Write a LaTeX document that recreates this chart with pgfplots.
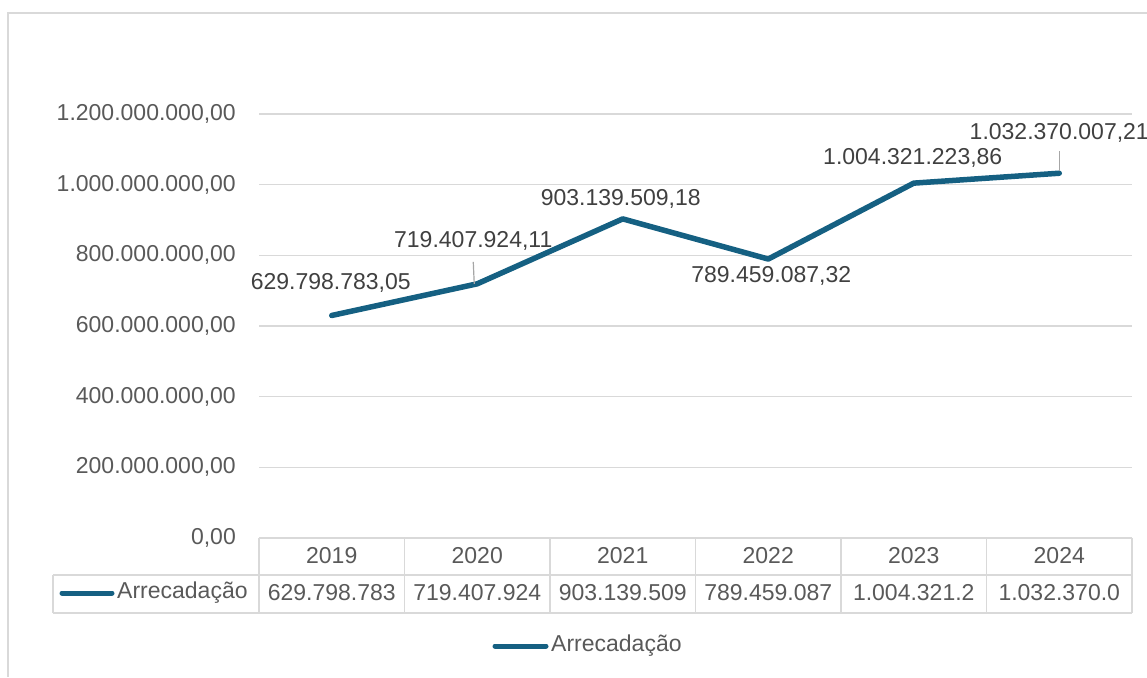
\documentclass[border=0pt]{standalone}
\usepackage{fontspec}
\setmainfont{Liberation Sans}
\usepackage{pgfplots}
\pgfplotsset{compat=1.18}
\definecolor{serie}{HTML}{156082}
\definecolor{gridc}{HTML}{D9D9D9}
\definecolor{txt}{HTML}{595959}
\definecolor{lbl}{HTML}{404040}
\definecolor{lead}{HTML}{A6A6A6}
\begin{document}
\fontsize{23}{27}\selectfont
\begin{tikzpicture}[x=1pt,y=1pt]
\useasboundingbox (0,0) rectangle (1147,677);
\draw[gridc, line width=1.5pt] (1147,664) -- (8,664) -- (8,0);
\begin{axis}[
  at={(259pt,139pt)}, anchor=south west,
  scale only axis, width=873pt, height=424pt,
  xmin=-0.5, xmax=5.5, ymin=0, ymax=1.2e9,
  scaled y ticks=false,
  axis line style={draw=none},
  major tick length=0pt,
  ymajorgrids, grid style={gridc, line width=1.5pt},
  ytick={0,2e8,4e8,6e8,8e8,1e9,1.2e9},
  yticklabels={{0,00},{200.000.000,00},{400.000.000,00},{600.000.000,00},{800.000.000,00},{1.000.000.000,00},{1.200.000.000,00}},
  yticklabel style={font=\fontsize{23}{27}\selectfont, text=txt, anchor=east, inner sep=0pt, xshift=-23pt},
  xtick={0,1,2,3,4,5},
  xticklabels={2019,2020,2021,2022,2023,2024},
  xticklabel style={font=\fontsize{23}{27}\selectfont, text=txt, anchor=center, inner sep=0pt, yshift=-18pt},
  clip=false,
]
\addplot[serie, line width=5.5pt, line join=round, line cap=round, mark=none] coordinates {
  (0,629798783.05) (1,719407924.11) (2,903139509.18) (3,789459087.32) (4,1004321223.86) (5,1032370007.21)
};
% leader lines
\draw[lead, line width=1.2pt] (axis cs:1,719407924.11) ++(-3pt,0pt) -- ++(-1pt,22pt);
\draw[lead, line width=1.2pt] (axis cs:5,1032370007.21) ++(0pt,2pt) -- ++(0pt,20pt);
% data labels
\begin{scope}[every node/.style={text=lbl, inner sep=0pt, font=\fontsize{23}{27}\selectfont}]
\node at (axis cs:0,629798783.05) [xshift=-1pt, yshift=33pt] {629.798.783,05};
\node at (axis cs:1,719407924.11) [xshift=-4pt, yshift=43pt] {719.407.924,11};
\node at (axis cs:2,903139509.18) [xshift=-2pt, yshift=20pt] {903.139.509,18};
\node at (axis cs:3,789459087.32) [xshift=3pt, yshift=-17pt] {789.459.087,32};
\node at (axis cs:4,1004321223.86) [xshift=-1pt, yshift=25pt] {1.004.321.223,86};
\node at (axis cs:5,1032370007.21) [xshift=0pt, yshift=40pt] {1.032.370.007,21};
\end{scope}
% data table row
\begin{scope}[every node/.style={text=txt, inner sep=0pt, font=\fontsize{23}{27}\selectfont}]
\node at (axis cs:0,0) [yshift=-55pt] {629.798.783};
\node at (axis cs:1,0) [yshift=-55pt] {719.407.924};
\node at (axis cs:2,0) [yshift=-55pt] {903.139.509};
\node at (axis cs:3,0) [yshift=-55pt] {789.459.087};
\node at (axis cs:4,0) [yshift=-55pt] {1.004.321.2};
\node at (axis cs:5,0) [yshift=-55pt] {1.032.370.0};
\end{scope}
\end{axis}
% table grid
\begin{scope}[gridc, line width=1.5pt]
\draw (259,139) -- (1132,139);
\draw (53,102) -- (1132,102);
\draw (53,64) -- (1132,64);
\draw (53,102) -- (53,64);
\foreach \x in {259,404.5,550,695.5,841,986.5,1132} { \draw (\x,139) -- (\x,64); }
\end{scope}
% table row key
\draw[serie, line width=5pt, line cap=round] (62,84) -- (112,84);
\node[text=txt, anchor=west, inner sep=0pt] at (117,84) {Arrecadação};
% legend
\draw[serie, line width=5pt, line cap=round] (495,31) -- (546,31);
\node[text=txt, anchor=west, inner sep=0pt] at (551,31) {Arrecadação};
\end{tikzpicture}
\end{document}
